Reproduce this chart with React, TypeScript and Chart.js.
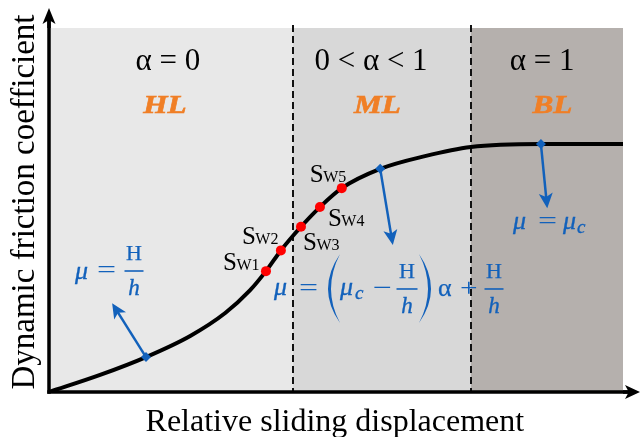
import React, { useEffect, useRef } from "react";
import { Chart, registerables } from "chart.js";
Chart.register(...registerables);

// Curve (relative sliding displacement vs dynamic friction coefficient), arbitrary units 0-100
const curveX = [0, 8.9, 16.9, 24.6, 30.7, 35.0, 37.8, 40.4, 43.9, 47.2, 51, 57.7, 65.5, 73.5, 85.7, 100];
const curveY = [0, 4.7, 9.6, 15.4, 21.7, 27.9, 33.2, 38.9, 45.4, 50.8, 56, 61.3, 64.8, 67.3, 68.1, 68.1];

// Sw points (on the curve)
const swNames = ["W1", "W2", "W3", "W4", "W5"];
const swX = [37.8, 40.4, 43.9, 47.2, 51];
const swY = [33.2, 38.9, 45.4, 50.8, 56];

// Regions
const regionBounds = [0, 42.5, 73.5, 100];
const regionNames = ["HL", "ML", "BL"];
const regionAlpha = ["α = 0", "0 < α < 1", "α = 1"];

// Blue markers and where their arrows point
const markerX = [16.9, 57.7, 85.7];
const markerY = [9.6, 61.3, 68.1];
const arrowTipX = [11, 59.9, 86.8];
const arrowTipY = [24.4, 40.4, 50.5];

const BLUE = "#1261bb";
const ORANGE = "#f07f26";
const SERIF = "'Liberation Serif', 'Times New Roman', serif";

function arrow(ctx: CanvasRenderingContext2D, x1: number, y1: number, x2: number, y2: number, len: number, half: number, lw: number, color: string) {
  const a = Math.atan2(y2 - y1, x2 - x1);
  const c = Math.cos(a), s = Math.sin(a);
  ctx.strokeStyle = color;
  ctx.fillStyle = color;
  ctx.lineWidth = lw;
  ctx.setLineDash([]);
  ctx.beginPath();
  ctx.moveTo(x1, y1);
  ctx.lineTo(x2 - c * len * 0.7, y2 - s * len * 0.7);
  ctx.stroke();
  const bx = x2 - c * len, by = y2 - s * len;
  const nx = -s, ny = c;
  const notch = len * 0.25;
  ctx.beginPath();
  ctx.moveTo(x2, y2);
  ctx.lineTo(bx + nx * half, by + ny * half);
  ctx.lineTo(x2 - c * (len - notch), y2 - s * (len - notch));
  ctx.lineTo(bx - nx * half, by - ny * half);
  ctx.closePath();
  ctx.fill();
}

function text(ctx: CanvasRenderingContext2D, s: string, x: number, y: number, font: string, align: CanvasTextAlign = "left", heavy = 0) {
  ctx.font = font;
  ctx.textAlign = align;
  ctx.textBaseline = "alphabetic";
  ctx.fillText(s, x, y);
  if (heavy > 0) {
    ctx.lineWidth = heavy;
    ctx.strokeText(s, x, y);
  }
}

function wideText(ctx: CanvasRenderingContext2D, s: string, x: number, y: number, font: string, sx: number, heavy = 0) {
  ctx.save();
  ctx.translate(x, y);
  ctx.scale(sx, 1);
  text(ctx, s, 0, 0, font, "left", heavy);
  ctx.restore();
}

const EQ_HEAVY = 0.35;

function frac(ctx: CanvasRenderingContext2D, cx: number, ay: number, w: number) {
  ctx.lineWidth = 1.6;
  ctx.beginPath();
  ctx.moveTo(cx - w / 2, ay);
  ctx.lineTo(cx + w / 2, ay);
  ctx.stroke();
  text(ctx, "H", cx, ay - 11, `22px ${SERIF}`, "center", 0.25);
  text(ctx, "h", cx, ay + 24, `italic 23px ${SERIF}`, "center", EQ_HEAVY);
}

function paren(ctx: CanvasRenderingContext2D, x: number, ay: number, dir: number) {
  // dir = -1 for "(", +1 for ")"
  ctx.beginPath();
  ctx.moveTo(x, ay - 35);
  ctx.quadraticCurveTo(x + dir * 24, ay, x, ay + 34);
  ctx.quadraticCurveTo(x + dir * 18, ay, x, ay - 35);
  ctx.closePath();
  ctx.fill();
}

const annot = {
  id: "annot",
  beforeDatasetsDraw(chart: any) {
    const { ctx, scales } = chart;
    const X = (v: number) => scales.x.getPixelForValue(v);
    const Y = (v: number) => scales.y.getPixelForValue(v);
    const colors = ["#e8e8e8", "#d8d8d8", "#b5b0ad"];
    ctx.save();
    const top = Y(100), bot = Y(0);
    colors.forEach((c, i) => {
      ctx.fillStyle = c;
      ctx.fillRect(X(regionBounds[i]), top, X(regionBounds[i + 1]) - X(regionBounds[i]), bot - top);
    });
    ctx.strokeStyle = "#111";
    ctx.lineWidth = 2;
    ctx.setLineDash([7, 4]);
    [1, 2].forEach((i) => {
      const px = Math.round(X(regionBounds[i]));
      ctx.beginPath();
      ctx.moveTo(px, top - 3);
      ctx.lineTo(px, bot);
      ctx.stroke();
    });
    ctx.restore();
  },
  afterDatasetsDraw(chart: any) {
    const { ctx, scales, chartArea: ca } = chart;
    const X = (v: number) => scales.x.getPixelForValue(v);
    const Y = (v: number) => scales.y.getPixelForValue(v);
    ctx.save();

    // axes
    const ox = X(0), oy = Y(0);
    ctx.strokeStyle = "#000";
    ctx.lineWidth = 3.5;
    ctx.setLineDash([]);
    ctx.beginPath();
    ctx.moveTo(ox, oy + 1.7);
    ctx.lineTo(ox, ca.top - 12);
    ctx.stroke();
    ctx.beginPath();
    ctx.moveTo(ox - 1.7, oy);
    ctx.lineTo(ca.right + 8, oy);
    ctx.stroke();
    arrow(ctx, ox, ca.top, ox, ca.top - 20, 16, 6.5, 3.5, "#000");
    arrow(ctx, ca.right, oy, ca.right + 17, oy, 15, 7, 3.5, "#000");

    // arrows from markers
    markerX.forEach((mx, i) => {
      arrow(ctx, X(mx), Y(markerY[i]), X(arrowTipX[i]), Y(arrowTipY[i]), 15, 7, 2.5, BLUE);
    });

    // region headings
    ctx.fillStyle = "#000";
    const alphaCenters = [20.7, 56.1, 85.9];
    const nameCenters = [20.2, 57.2, 87.7];
    regionAlpha.forEach((s, i) => text(ctx, s, X(alphaCenters[i]), Y(88.5), `31px ${SERIF}`, "center"));
    ctx.fillStyle = ORANGE;
    ctx.strokeStyle = ORANGE;
    regionNames.forEach((s, i) => {
      ctx.save();
      ctx.translate(X(nameCenters[i]), Y(76.6));
      ctx.scale(1.25, 1);
      text(ctx, s, 0, 0, `italic bold 25px ${SERIF}`, "center", 0.6);
      ctx.restore();
    });

    // Sw labels
    ctx.fillStyle = "#000";
    const off = [[-43, -1], [-39, -6], [2, 23], [8, 19], [-32, -6]];
    swNames.forEach((n, i) => {
      const lx = X(swX[i]) + off[i][0];
      const ly = Y(swY[i]) + off[i][1];
      text(ctx, "S", lx, ly, `25px ${SERIF}`);
      ctx.font = `25px ${SERIF}`;
      const w = ctx.measureText("S").width;
      text(ctx, n, lx + w - 0.5, ly, `16px ${SERIF}`);
    });

    // equations
    ctx.fillStyle = BLUE;
    ctx.strokeStyle = BLUE;
    // left: mu = H/h
    {
      const ax = X(4.53), ay = Y(33.24);
      text(ctx, "μ", ax, ay + 8, `italic 26px ${SERIF}`, "left", EQ_HEAVY);
      wideText(ctx, "=", ax + 22, ay + 7, `26px ${SERIF}`, 1.3);
      frac(ctx, ax + 59, ay, 19);
    }
    // middle: mu = (mu_c - H/h) alpha + H/h
    {
      const ax = X(39.2), ay = Y(28.3);
      text(ctx, "μ", ax, ay + 6, `italic 26px ${SERIF}`, "left", EQ_HEAVY);
      wideText(ctx, "=", ax + 25, ay + 7, `26px ${SERIF}`, 1.3);
      paren(ctx, ax + 66, ay, -1);
      text(ctx, "μ", ax + 66, ay + 6, `italic 26px ${SERIF}`, "left", EQ_HEAVY);
      text(ctx, "c", ax + 81, ay + 10, `italic 19px ${SERIF}`, "left", EQ_HEAVY);
      wideText(ctx, "−", ax + 99, ay + 7, `26px ${SERIF}`, 1.3);
      frac(ctx, ax + 133, ay, 21);
      paren(ctx, ax + 145, ay, 1);
      text(ctx, "α", ax + 164, ay + 7, `26px ${SERIF}`, "left", 0.25);
      wideText(ctx, "+", ax + 186, ay + 7, `26px ${SERIF}`, 1.2);
      frac(ctx, ax + 220, ay, 19);
    }
    // right: mu = mu_c
    {
      const ax = X(80.84), ay = Y(46.7);
      text(ctx, "μ", ax, ay + 7, `italic 26px ${SERIF}`, "left", EQ_HEAVY);
      wideText(ctx, "=", ax + 25, ay + 7, `26px ${SERIF}`, 1.3);
      text(ctx, "μ", ax + 50, ay + 7, `italic 26px ${SERIF}`, "left", EQ_HEAVY);
      text(ctx, "c", ax + 64, ay + 11, `italic 19px ${SERIF}`, "left", EQ_HEAVY);
    }

    // axis titles
    ctx.fillStyle = "#000";
    text(ctx, "Relative sliding displacement", X(49.8), ca.bottom + 39, `32px ${SERIF}`, "center");
    ctx.save();
    ctx.translate(ca.left - 15, (ca.top + ca.bottom) / 2 - 8);
    ctx.rotate(-Math.PI / 2);
    text(ctx, "Dynamic friction coefficient", 0, 0, `33px ${SERIF}`, "center");
    ctx.restore();

    ctx.restore();
  },
};

export default function App() {
  const ref = useRef<HTMLCanvasElement>(null);
  useEffect(() => {
    if (!ref.current) return;
    const chart = new Chart(ref.current, {
      type: "line",
      data: {
        datasets: [
          {
            data: curveX.map((x, i) => ({ x, y: curveY[i] })),
            borderColor: "#000",
            borderWidth: 4,
            pointRadius: 0,
            cubicInterpolationMode: "monotone",
            fill: false,
            order: 3,
          },
          {
            data: swX.map((x, i) => ({ x, y: swY[i] })),
            showLine: false,
            pointRadius: 5,
            pointBackgroundColor: "#ff0000",
            pointBorderWidth: 0,
            order: 2,
          },
          {
            data: markerX.map((x, i) => ({ x, y: markerY[i] })),
            showLine: false,
            pointStyle: "rectRot",
            pointRadius: 5,
            pointBackgroundColor: BLUE,
            pointBorderWidth: 0,
            order: 1,
          },
        ],
      },
      options: {
        responsive: false,
        maintainAspectRatio: false,
        devicePixelRatio: 1,
        animation: false,
        events: [],
        layout: { padding: { left: 49, right: 18, top: 28, bottom: 45 } },
        scales: {
          x: { type: "linear", min: 0, max: 100, display: false },
          y: { type: "linear", min: 0, max: 100, display: false },
        },
        plugins: { legend: { display: false }, tooltip: { enabled: false } },
      } as any,
      plugins: [annot],
    });
    return () => chart.destroy();
  }, []);
  return (
    <div style={{ position: "fixed", left: 0, top: 0, width: 641, height: 437, background: "#fff" }}>
      <canvas ref={ref} width={641} height={437} style={{ display: "block" }} />
    </div>
  );
}
